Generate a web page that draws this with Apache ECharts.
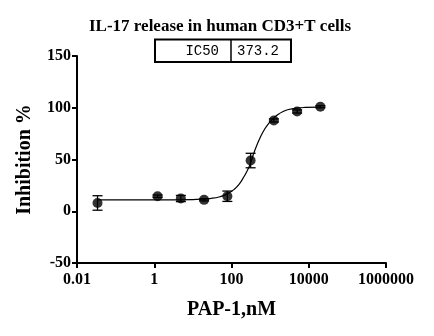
<!DOCTYPE html>
<html>
<head>
<meta charset="utf-8">
<script src="https://cdn.jsdelivr.net/npm/echarts@6/dist/echarts.min.js"></script>
<style>html,body{margin:0;padding:0;background:#fff}#c{width:434px;height:336px}</style>
</head>
<body>
<div id="c"></div>
<script>
// Measured points (concentration nM, inhibition %, error)
var conc = [0.034, 1.22, 4.88, 19.5, 78.1, 312.5, 1250, 5000, 20000];
var inhibition = [8, 14.5, 12.3, 11, 14.5, 49, 87.7, 96.4, 101];
var errors = [7, 1.2, 3, 1, 5, 7, 1.5, 1.5, 1];
// Fitted curve
var curveX = [0.034, 1, 10, 30, 50, 80, 120, 160, 200, 250, 300, 373, 450, 550, 700, 900, 1200, 1600, 2200, 3000, 5000, 8000, 20000];
var curveY = [11, 11, 11.3, 12.5, 14, 17, 21.5, 26.5, 32, 38.5, 45, 55.5, 63.5, 71, 78.5, 84.5, 89.5, 93.5, 96.5, 98.3, 99.7, 100.3, 100.6];
var xTicks = [0.01, 1, 100, 10000, 1000000];
var yTicks = [-50, 0, 50, 100, 150];
var tableCells = ['IC50', '373.2'];

var F = '"Liberation Serif","Times New Roman",serif';
var chart = echarts.init(document.getElementById('c'));
var pts = conc.map(function (x, i) { return [x, inhibition[i]]; });
var errData = conc.map(function (x, i) { return [x, inhibition[i] - errors[i], inhibition[i] + errors[i]]; });
var curve = curveX.map(function (x, i) { return [x, curveY[i]]; });

chart.setOption({
  animation: false,
  backgroundColor: '#fff',
  title: {
    text: 'IL-17 release in human CD3+T cells',
    left: 215, top: 13, textAlign: 'center',
    textStyle: { fontFamily: F, fontWeight: 'bold', fontSize: 17, color: '#000' }
  },
  graphic: [
    { type: 'rect', shape: { x: 155, y: 39.5, width: 136, height: 22.5 }, style: { fill: '#fff', stroke: '#000', lineWidth: 2 } },
    { type: 'line', shape: { x1: 231, y1: 39.5, x2: 231, y2: 62 }, style: { stroke: '#000', lineWidth: 1.5 } },
    { type: 'text', x: 219, y: 51, style: { text: tableCells[0], align: 'right', verticalAlign: 'middle', font: '14px "Liberation Mono", monospace', fill: '#000' } },
    { type: 'text', x: 237, y: 51, style: { text: tableCells[1], align: 'left', verticalAlign: 'middle', font: '14px "Liberation Mono", monospace', fill: '#000' } }
  ],
  grid: { left: 77, right: 48, top: 56, bottom: 73 },
  xAxis: {
    type: 'log', logBase: 10, min: xTicks[0], max: xTicks[xTicks.length - 1], interval: 2,
    name: 'PAP-1,nM', nameLocation: 'middle', nameGap: 37,
    nameTextStyle: { fontFamily: F, fontWeight: 'bold', fontSize: 20, color: '#000' },
    axisLine: { onZero: false, lineStyle: { color: '#000', width: 2 } },
    axisTick: { show: true, length: 5, lineStyle: { color: '#000', width: 2 } },
    splitLine: { show: false },
    minorTick: { show: false },
    axisLabel: {
      margin: 9, fontFamily: F, fontWeight: 'bold', fontSize: 16, color: '#000',
      formatter: function (v) { return v >= 1 ? String(Math.round(v)) : String(+v.toPrecision(3)); }
    }
  },
  yAxis: {
    type: 'value', min: yTicks[0], max: yTicks[yTicks.length - 1], interval: 50,
    name: 'Inhibition %', nameLocation: 'middle', nameGap: 42,
    nameTextStyle: { fontFamily: F, fontWeight: 'bold', fontSize: 20, color: '#000' },
    axisLine: { show: true, onZero: false, lineStyle: { color: '#000', width: 2 } },
    axisTick: { show: true, length: 5, lineStyle: { color: '#000', width: 2 } },
    splitLine: { show: false },
    axisLabel: { margin: 6, fontFamily: F, fontWeight: 'bold', fontSize: 16, color: '#000' }
  },
  series: [
    {
      type: 'line', data: curve, smooth: true, symbol: 'none',
      lineStyle: { color: '#000', width: 1.2 }, z: 2
    },
    {
      type: 'custom', z: 3,
      renderItem: function (params, api) {
        var x = api.value(0);
        var lo = api.coord([x, api.value(1)]);
        var hi = api.coord([x, api.value(2)]);
        var w = 5;
        var st = { stroke: '#000', lineWidth: 1.3 };
        return { type: 'group', children: [
          { type: 'line', shape: { x1: lo[0], y1: lo[1], x2: hi[0], y2: hi[1] }, style: st },
          { type: 'line', shape: { x1: lo[0] - w, y1: lo[1], x2: lo[0] + w, y2: lo[1] }, style: st },
          { type: 'line', shape: { x1: hi[0] - w, y1: hi[1], x2: hi[0] + w, y2: hi[1] }, style: st }
        ] };
      },
      encode: { x: 0, y: [1, 2] },
      data: errData
    },
    {
      type: 'scatter', data: pts, symbol: 'circle', symbolSize: 10,
      itemStyle: { color: '#000' }, z: 4
    }
  ]
});
</script>
</body>
</html>
